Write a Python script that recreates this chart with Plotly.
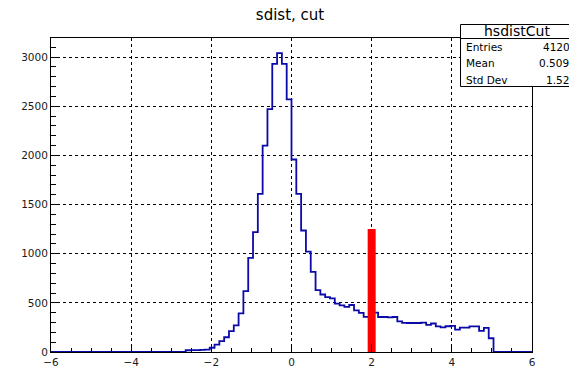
import numpy as np
import plotly.graph_objects as go

# Histogram of sdist after the cut: 100 bins from -6 to 6
x_min, x_max, n_bins = -6.0, 6.0, 100
counts = [0] * 28 + [
    18, 20, 20, 22, 25,            # bins 28-32
    43, 76, 110, 150, 212, 270, 392,  # 33-39
    619, 958, 1219, 1609, 2100, 2470, 2931, 3040, 2931, 2569,  # 40-49
    1958, 1609, 1236, 1020, 815, 629, 585, 558, 545, 492,      # 50-59
    475, 458, 478, 424, 397, 358, 356, 400, 356, 356,          # 60-69
    352, 356, 312, 296, 295, 295, 295, 298, 275, 290,          # 70-79
    260, 250, 262, 265, 228, 248, 248, 261, 261, 215,          # 80-89
    245, 140,                                                  # 90-91
] + [0] * 8

# Cut position marker
cut_x = 2.0
cut_height = 1250

# Statistics box contents
stats_name = "hsdistCut"
stats_labels = ["Entries", "Mean", "Std Dev"]
stats_values = ["41205", "0.5093", "1.522"]

y_max = 3194

edges = np.linspace(x_min, x_max, n_bins + 1)
step_x = list(edges)
step_y = list(counts) + [counts[-1]]

fig = go.Figure()
fig.add_trace(go.Scatter(
    x=step_x, y=step_y, mode="lines", line_shape="hv",
    line=dict(color="#0a0aa8", width=1.8), showlegend=False, hoverinfo="skip",
))
fig.add_trace(go.Scatter(
    x=[cut_x, cut_x], y=[0, cut_height], mode="lines",
    line=dict(color="#ff0000", width=8), showlegend=False, hoverinfo="skip",
))

W, H = 569, 368
ml, mr, mt, mb = 51, 37, 38, 16
pw, ph = W - ml - mr, H - mt - mb


def px_to_paper_x(px):
    return (px - ml) / pw


def px_to_paper_y(py):
    return (H - mb - py) / ph


tick_font = dict(family="DejaVu Sans", size=10.5, color="#1a1a1a")
fig.update_layout(
    width=W, height=H,
    margin=dict(l=ml, r=mr, t=mt, b=mb, autoexpand=False),
    paper_bgcolor="white", plot_bgcolor="white",
    title=dict(text="sdist, cut", x=290 / W, xanchor="center",
               y=1 - 15 / H, yanchor="middle", automargin=False,
               font=dict(family="DejaVu Sans", size=15, color="black")),
    xaxis=dict(
        range=[x_min, x_max], tickvals=list(range(-6, 7, 2)), automargin=False,
        ticks="inside", ticklen=8, tickwidth=1, tickcolor="black",
        minor=dict(dtick=0.5, ticks="inside", ticklen=4, tickcolor="black", showgrid=False),
        showgrid=True, gridcolor="black", griddash="dot", gridwidth=1,
        zeroline=False, showline=True, linecolor="black", linewidth=1, mirror=True,
        tickfont=tick_font,
    ),
    yaxis=dict(
        range=[0, y_max], tickvals=list(range(0, 3001, 500)), automargin=False,
        ticks="inside", ticklen=9, tickwidth=1, tickcolor="black",
        minor=dict(dtick=100, ticks="inside", ticklen=5, tickcolor="black", showgrid=False),
        showgrid=True, gridcolor="black", griddash="dot", gridwidth=1,
        zeroline=False, showline=True, linecolor="black", linewidth=1, mirror=True,
        tickfont=tick_font,
    ),
)

# Statistics box
box_l, box_r, box_t, box_b, box_sep = 460.5, 600, 24.5, 86.5, 38.5
fig.add_shape(type="rect", xref="paper", yref="paper",
              x0=px_to_paper_x(box_l), x1=px_to_paper_x(box_r),
              y0=px_to_paper_y(box_b), y1=px_to_paper_y(box_t),
              line=dict(color="black", width=1), fillcolor="white", layer="above")
fig.add_shape(type="line", xref="paper", yref="paper",
              x0=px_to_paper_x(box_l), x1=px_to_paper_x(box_r),
              y0=px_to_paper_y(box_sep), y1=px_to_paper_y(box_sep),
              line=dict(color="black", width=1), layer="above")

stats_font = dict(family="DejaVu Sans", size=10.5, color="black")
fig.add_annotation(xref="paper", yref="paper", x=px_to_paper_x(516.7), y=px_to_paper_y(31.5),
                   text=stats_name, showarrow=False, xanchor="center", yanchor="middle",
                   borderpad=0, font=dict(family="DejaVu Sans", size=14, color="black"))
row_y = [46.7, 63.3, 80.0]
for lab, val, ry in zip(stats_labels, stats_values, row_y):
    fig.add_annotation(xref="paper", yref="paper", x=px_to_paper_x(465), y=px_to_paper_y(ry),
                       text=lab, showarrow=False, xanchor="left", yanchor="middle",
                       borderpad=0, font=stats_font)
    fig.add_annotation(xref="paper", yref="paper", x=px_to_paper_x(577), y=px_to_paper_y(ry),
                       text=val, showarrow=False, xanchor="right", yanchor="middle",
                       borderpad=0, font=stats_font)

fig.write_html("out.html")
